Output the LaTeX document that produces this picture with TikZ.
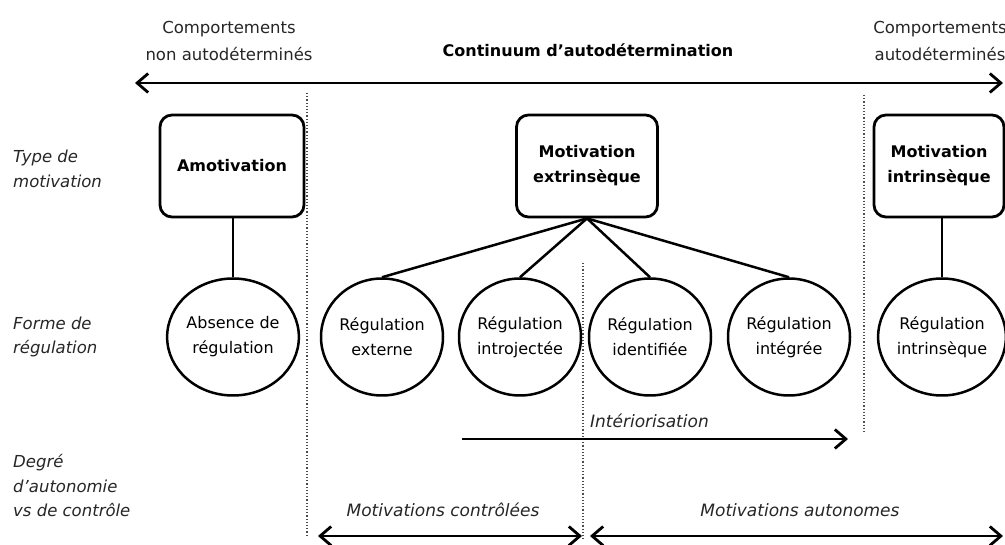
\documentclass[tikz,border=0pt]{standalone}
\usepackage{fontspec}
\setmainfont{DejaVu Sans}
\usetikzlibrary{arrows.meta,shapes.geometric}
\begin{document}
\begin{tikzpicture}[x=1pt,y=-1pt,
  txt/.style={font=\fontsize{16.5}{27}\selectfont, align=center, inner sep=0pt, text=black!85},
  boldtxt/.style={font=\fontsize{16}{25}\selectfont\bfseries, align=center, inner sep=0pt},
  lab/.style={font=\fontsize{16.5}{24.5}\selectfont\itshape, align=left, anchor=west, inner sep=0pt, text=black!85},
  itxt/.style={font=\fontsize{17}{24}\selectfont\itshape, inner sep=0pt, text=black!85},
  typebox/.style={draw, line width=2.8pt, rounded corners=12pt, minimum height=102pt,
     font=\fontsize{16}{25}\selectfont\bfseries, align=center, inner sep=0pt},
  regcirc/.style={draw, ellipse, line width=2.5pt, minimum width=122pt, minimum height=117pt,
     inner sep=0pt, font=\fontsize{16}{25}\selectfont, align=center},
  link/.style={line width=2.5pt},
  sep/.style={dotted, line width=1.2pt, black!70},
  arr/.style={line width=2.8pt},
  tip/.tip={Straight Barb[length=11pt,width=19pt]}
]
\path[fill=white] (0,0) rectangle (1005,545);
\useasboundingbox (0,0) rectangle (1005,545);

% header texts
\node[txt] (cl) at (229,41) {Comportements\\non autodéterminés};
\node[boldtxt] (cont) at (588,50) {Continuum d'autodétermination};
\node[txt] (cr) at (940,41) {Comportements\\autodéterminés};

% continuum arrow
\coordinate (ta) at (135,83);
\coordinate (tb) at (1003,83);
\draw[arr, tip-tip] (ta) -- (tb);

% dotted separators
\coordinate (s1a) at (307,93);  \coordinate (s1b) at (307,535);
\coordinate (s2a) at (864,95);  \coordinate (s2b) at (864,432);
\coordinate (s3a) at (583,263); \coordinate (s3b) at (583,540);
\draw[sep] (s1a) -- (s1b);
\draw[sep] (s2a) -- (s2b);
\draw[sep] (s3a) -- (s3b);

% row labels
\node[lab] (l1) at (13,169) {Type de\\motivation};
\node[lab] (l2) at (13,337) {Forme de\\régulation};
\node[lab] (l3) at (13,486) {Degré\\d'autonomie\\vs de contrôle};

% type boxes
\node[typebox, minimum width=144pt] (amot) at (232,166) {Amotivation};
\node[typebox, minimum width=141pt] (ext) at (587,166) {Motivation\\extrinsèque};
\node[typebox, minimum width=130pt] (intr) at (939,166) {Motivation\\intrinsèque};

% regulation circles
\node[regcirc] (c1) at (233,337) {Absence de\\régulation};
\node[regcirc] (c2) at (382,337) {Régulation\\externe};
\node[regcirc] (c3) at (520,337) {Régulation\\introjectée};
\node[regcirc] (c4) at (650,337) {Régulation\\identifiée};
\node[regcirc] (c5) at (789,337) {Régulation\\intégrée};
\node[regcirc] (c6) at (942,337) {Régulation\\intrinsèque};

% links
\draw[link] (c1.north) -- (c1.north |- amot.south);
\draw[link] (c6.north) -- (c6.north |- intr.south);
\draw[link] (ext.south) -- (c2.north);
\draw[link] (ext.south) -- (c3.north);
\draw[link] (ext.south) -- (c4.north);
\draw[link] (ext.south) -- (c5.north);

% interiorisation
\node[itxt, anchor=west] (intlab) at (590,421) {Intériorisation};
\coordinate (ia) at (462,439);
\coordinate (ib) at (848,439);
\draw[arr, -tip] (ia) -- (ib);

% bottom
\node[itxt] (mc) at (443,510) {Motivations contrôlées};
\node[itxt] (ma) at (800,510) {Motivations autonomes};
\coordinate (ba) at (318,536); \coordinate (bb) at (582,536);
\coordinate (bc) at (590,536); \coordinate (bd) at (1003,536);
\draw[arr, tip-tip] (ba) -- (bb);
\draw[arr, tip-tip] (bc) -- (bd);
\end{tikzpicture}
\end{document}
